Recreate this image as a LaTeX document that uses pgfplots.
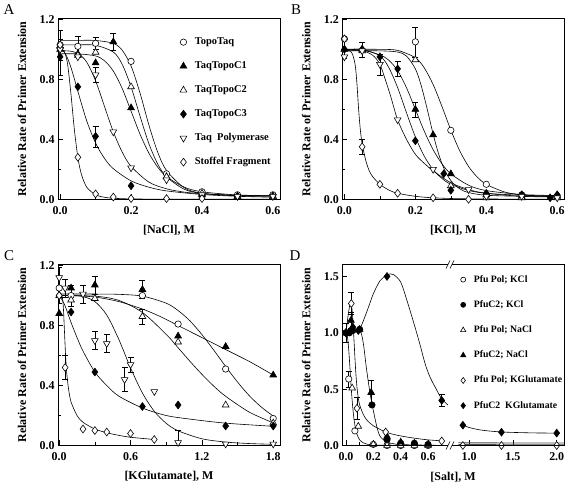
\documentclass[border=0pt]{standalone}
\usepackage{fontspec}
\setmainfont{Liberation Serif}
\usepackage{pgfplots}
\usetikzlibrary{calc}
\pgfplotsset{compat=1.18}
\pgfplotsset{
 panel/.style={scale only axis, width=222bp, height=181bp, anchor=south west,
   clip mode=individual, tick align=inside, tick pos=left,
   major tick length=5bp, minor tick length=3bp,
   every tick/.style={black, line width=0.6pt},
   axis line style={black, line width=0.8pt},
   tick label style={font=\fontsize{12}{12}\selectfont\bfseries},
   xticklabel style={yshift=-4bp},
   label style={font=\fontsize{12}{14}\selectfont\bfseries},
   /pgf/number format/fixed, /pgf/number format/fixed zerofill, /pgf/number format/precision=1,
   /pgf/number format/assume math mode=true,
   ylabel style={at={(axis description cs:-0.162,0.5)}, anchor=center},
   xlabel style={at={(axis description cs:0.5,-0.17)}, anchor=center},
   legend cell align=left,
   legend image code/.code={\draw[##1] plot coordinates {(0bp,0bp)};},
 },
 curve/.style={black, line width=0.6pt, smooth, tension=0.5, mark=none, forget plot},
 eb/.style={only marks, mark=none, forget plot, error bars/.cd, y dir=both, y explicit,
   error bar style={black, line width=0.6pt}, error mark options={rotate=90, black, line width=0.6pt, mark size=3bp}},
 mO/.style={only marks, mark=*, mark size=3.2bp, mark options={fill=white, draw=black, line width=0.6pt}},
 mCf/.style={only marks, mark=*, mark size=3.2bp, mark options={fill=black, draw=black, line width=0.6pt}},
 mTf/.style={only marks, mark=triangle*, mark size=3.9bp, mark options={fill=black, draw=black, line width=0.6pt}},
 mTo/.style={only marks, mark=triangle*, mark size=3.9bp, mark options={fill=white, draw=black, line width=0.6pt}},
 mDf/.style={only marks, mark=diamond*, mark size=3.9bp, mark options={fill=black, draw=black, line width=0.6pt}},
 mDo/.style={only marks, mark=diamond*, mark size=3.9bp, mark options={fill=white, draw=black, line width=0.6pt}},
 mV/.style={only marks, mark=triangle*, mark size=3.9bp, mark options={fill=white, draw=black, line width=0.6pt, rotate=180}},
 legA/.style={legend style={draw=none, fill=none, inner sep=0pt, row sep=14bp, column sep=8bp,
   font=\fontsize{10.5}{10.5}\selectfont\bfseries, nodes={inner sep=0pt, text height=7.5bp, text depth=2.5bp}}},
}
\begin{document}
\begin{tikzpicture}[x=1bp,y=1bp]
\useasboundingbox (0bp,0bp) rectangle (568bp,492bp);
% ---------------- Panel A ----------------
\begin{axis}[panel, at={(58bp,292.7bp)}, xmin=-0.006, xmax=0.62, ymin=0, ymax=1.207,
  xtick={0,0.2,0.4,0.6}, minor xtick={0.1,0.3,0.5},
  ytick={0,0.4,0.8,1.2}, minor ytick={0.2,0.6,1.0},
  xlabel={{}[NaCl], M}, ylabel={Relative Rate of Primer Extension},
  legA, legend style={at={(axis description cs:0.549,0.897)}, anchor=north west}]
\addplot[curve] coordinates {(0,1.06)(0.05,1.06)(0.1,1.059)(0.15,1.04)(0.175,0.994)(0.2,0.889)(0.225,0.711)(0.25,0.498)(0.275,0.315)(0.3,0.192)(0.35,0.077)(0.4,0.04)(0.5,0.024)(0.6,0.021)};
\addplot[curve] coordinates {(0,1.03)(0.05,1.03)(0.1,1.027)(0.15,0.982)(0.175,0.90)(0.2,0.75)(0.225,0.557)(0.25,0.373)(0.275,0.236)(0.3,0.15)(0.35,0.067)(0.4,0.039)(0.5,0.024)(0.6,0.021)};
\addplot[curve] coordinates {(0,0.97)(0.05,0.97)(0.1,0.956)(0.125,0.924)(0.15,0.855)(0.175,0.739)(0.2,0.588)(0.225,0.436)(0.25,0.309)(0.275,0.215)(0.3,0.151)(0.35,0.081)(0.4,0.05)(0.5,0.029)(0.6,0.024)};
\addplot[curve] coordinates {(0,0.99)(0.025,0.989)(0.05,0.973)(0.075,0.915)(0.1,0.79)(0.125,0.62)(0.15,0.45)(0.175,0.315)(0.2,0.22)(0.25,0.115)(0.3,0.07)(0.35,0.048)(0.4,0.037)(0.5,0.027)(0.6,0.023)};
\addplot[curve] coordinates {(0,1.0)(0.01,0.987)(0.02,0.946)(0.03,0.883)(0.04,0.804)(0.05,0.72)(0.075,0.523)(0.1,0.375)(0.125,0.273)(0.15,0.204)(0.2,0.123)(0.25,0.081)(0.3,0.056)(0.4,0.032)(0.5,0.02)(0.6,0.014)};
\addplot[curve] coordinates {(0,1.0)(0.01,0.993)(0.02,0.917)(0.03,0.715)(0.04,0.468)(0.05,0.28)(0.06,0.167)(0.075,0.081)(0.1,0.03)(0.125,0.0135)(0.15,0.007)(0.2,0.0025)(0.3,0.001)(0.6,0.0)};
\addplot[eb] coordinates {(0,0.95) +- (0,0.12) (0,1.03) +- (0,0.1) (0.05,1.02) +- (0,0.07) (0.1,1.04) +- (0,0.04) (0.1,0.83) +- (0,0.05) (0.15,1.05) +- (0,0.055) (0.1,0.42) +- (0,0.07)};
\addplot[mO] coordinates {(0,1.03)(0.05,1.02)(0.1,1.04)(0.2,0.92)(0.3,0.17)(0.4,0.05)(0.5,0.03)(0.6,0.03)};
\addlegendentry{TopoTaq}
\addplot[mTf] coordinates {(0,1.0)(0.05,0.97)(0.1,0.91)(0.15,1.05)(0.2,0.61)(0.3,0.15)(0.4,0.03)(0.5,0.02)(0.6,0.02)};
\addlegendentry{TaqTopoC1}
\addplot[mTo] coordinates {(0,1.02)(0.05,0.96)(0.1,0.98)(0.2,0.75)(0.3,0.15)(0.4,0.04)(0.5,0.02)(0.6,0.02)};
\addlegendentry{TaqTopoC2}
\addplot[mDf] coordinates {(0,0.95)(0.05,0.75)(0.1,0.42)(0.2,0.09)(0.4,0.02)(0.5,0.02)(0.6,0.02)};
\addlegendentry{TaqTopoC3}
\addplot[mV] coordinates {(0,1.0)(0.05,0.95)(0.1,0.83)(0.15,0.45)(0.2,0.21)(0.3,0.13)(0.4,0.03)(0.5,0.02)(0.6,0.02)};
\addlegendentry{Taq~ Polymerase}
\addplot[mDo] coordinates {(0,1.03)(0.05,0.28)(0.1,0.036)(0.15,0.015)(0.2,0.005)(0.3,0.005)(0.4,0.005)};
\addlegendentry{Stoffel Fragment}
\end{axis}
% ---------------- Panel B ----------------
\begin{axis}[panel, at={(342.3bp,292.7bp)}, xmin=-0.006, xmax=0.62, ymin=0, ymax=1.207,
  xtick={0,0.2,0.4,0.6}, minor xtick={0.1,0.3,0.5},
  ytick={0,0.4,0.8,1.2}, minor ytick={0.2,0.6,1.0},
  xlabel={{}[KCl], M}, ylabel={Relative Rate of Primer Extension}]
\addplot[curve] coordinates {(0,1.0)(0.1,1.0)(0.15,0.993)(0.2,0.944)(0.225,0.877)(0.25,0.766)(0.275,0.619)(0.3,0.462)(0.325,0.324)(0.35,0.219)(0.375,0.147)(0.4,0.10)(0.45,0.05)(0.5,0.029)(0.6,0.015)};
\addplot[curve] coordinates {(0,0.99)(0.1,0.99)(0.15,0.982)(0.175,0.955)(0.2,0.87)(0.215,0.77)(0.23,0.635)(0.25,0.436)(0.265,0.307)(0.28,0.209)(0.3,0.125)(0.325,0.07)(0.35,0.045)(0.4,0.027)(0.5,0.02)(0.6,0.02)};
\addplot[curve] coordinates {(0,1.0)(0.05,0.995)(0.1,0.963)(0.125,0.928)(0.15,0.858)(0.175,0.744)(0.2,0.6)(0.225,0.455)(0.25,0.331)(0.275,0.237)(0.3,0.17)(0.35,0.094)(0.4,0.058)(0.5,0.032)(0.6,0.025)};
\addplot[curve] coordinates {(0,1.0)(0.05,0.999)(0.1,0.957)(0.125,0.879)(0.15,0.745)(0.175,0.577)(0.2,0.416)(0.225,0.288)(0.25,0.198)(0.275,0.139)(0.3,0.10)(0.35,0.059)(0.4,0.04)(0.5,0.027)(0.6,0.023)};
\addplot[curve] coordinates {(0,0.99)(0.05,0.99)(0.08,0.96)(0.1,0.9)(0.115,0.8)(0.13,0.69)(0.15,0.53)(0.175,0.4)(0.2,0.3)(0.225,0.24)(0.25,0.19)(0.3,0.11)(0.35,0.065)(0.4,0.04)(0.5,0.02)(0.6,0.015)};
\addplot[curve] coordinates {(0,1.0)(0.02,0.98)(0.03,0.9)(0.035,0.78)(0.04,0.6)(0.045,0.46)(0.05,0.37)(0.06,0.26)(0.07,0.19)(0.08,0.15)(0.1,0.1)(0.125,0.062)(0.15,0.04)(0.2,0.02)(0.25,0.01)(0.35,0.003)(0.6,0.0)};
\addplot[eb] coordinates {(0,1.0) +- (0,0.06) (0.05,1.0) +- (0,0.05) (0.1,0.9) +- (0,0.07) (0.15,0.87) +- (0,0.05) (0.2,1.05) +- (0,0.1) (0.2,0.6) +- (0,0.05) (0.05,0.35) +- (0,0.05)};
\addplot[mO] coordinates {(0,1.07)(0.2,1.05)(0.3,0.46)(0.4,0.10)(0.5,0.03)(0.6,0.02)};
\addplot[mTf] coordinates {(0,1.0)(0.05,1.0)(0.2,0.6)(0.25,0.43)(0.3,0.17)(0.4,0.03)(0.5,0.02)(0.6,0.02)};
\addplot[mTo] coordinates {(0,1.0)(0.05,0.99)(0.2,0.93)(0.3,0.09)(0.4,0.01)(0.5,0.01)(0.6,0.01)};
\addplot[mDf] coordinates {(0,1.0)(0.05,1.0)(0.1,0.95)(0.15,0.87)(0.2,0.39)(0.28,0.17)(0.3,0.06)(0.4,0.04)(0.5,0.03)(0.58,0.01)(0.6,0.03)};
\addplot[mV] coordinates {(0,0.95)(0.05,0.99)(0.1,0.9)(0.15,0.53)(0.25,0.2)(0.35,0.065)(0.4,0.02)(0.5,0.02)(0.6,0.01)};
\addplot[mDo] coordinates {(0,1.07)(0.05,0.35)(0.1,0.1)(0.15,0.04)(0.25,0.01)(0.35,0.0)};
\end{axis}
% ---------------- Panel C ----------------
\begin{axis}[panel, at={(58bp,46.5bp)}, xmin=-0.01, xmax=1.857, ymin=0, ymax=1.207,
  xtick={0,0.6,1.2,1.8}, minor xtick={0.3,0.9,1.5},
  ytick={0,0.4,0.8,1.2}, minor ytick={0.2,0.6,1.0},
  xlabel={{}[KGlutamate], M}, ylabel={Relative Rate of Primer Extension}]
\addplot[curve] coordinates {(0,1.01)(0.3,1.01)(0.5,1.008)(0.7,0.996)(0.9,0.949)(1.0,0.90)(1.1,0.831)(1.2,0.74)(1.3,0.636)(1.4,0.527)(1.5,0.423)(1.6,0.331)(1.7,0.256)(1.8,0.196)};
\addplot[curve] coordinates {(0,1.0)(0.1,1.0)(0.3,0.99)(0.5,0.96)(0.7,0.91)(0.85,0.86)(1.0,0.8)(1.2,0.72)(1.4,0.64)(1.6,0.56)(1.8,0.47)};
\addplot[curve] coordinates {(0,1.0)(0.3,0.996)(0.5,0.968)(0.7,0.887)(0.9,0.741)(1.0,0.652)(1.1,0.561)(1.2,0.475)(1.3,0.396)(1.4,0.328)(1.6,0.222)(1.8,0.151)};
\addplot[curve] coordinates {(0,1.0)(0.1,1.0)(0.2,0.993)(0.3,0.96)(0.4,0.87)(0.5,0.71)(0.6,0.518)(0.7,0.35)(0.8,0.228)(0.9,0.148)(1.0,0.098)(1.2,0.045)(1.4,0.023)(1.6,0.013)(1.8,0.008)};
\addplot[curve] coordinates {(0,1.0)(0.025,0.97)(0.05,0.93)(0.1,0.82)(0.15,0.72)(0.2,0.63)(0.3,0.49)(0.4,0.40)(0.5,0.33)(0.7,0.25)(0.9,0.2)(1.1,0.176)(1.4,0.149)(1.8,0.128)};
\addplot[curve] coordinates {(0,1.0)(0.025,0.99)(0.035,0.92)(0.045,0.75)(0.055,0.58)(0.065,0.47)(0.08,0.37)(0.1,0.29)(0.15,0.2)(0.2,0.155)(0.3,0.11)(0.4,0.085)(0.5,0.068)(0.6,0.055)(0.8,0.04)};
\addplot[eb] coordinates {(0,1.12) +- (0,0.07) (0,1.0) +- (0,0.05) (0.05,1.05) +- (0,0.06) (0.1,1.0) +- (0,0.07) (0.2,1.01) +- (0,0.06) (0.3,1.07) +- (0,0.06) (0.3,0.7) +- (0,0.06) (0.4,0.68) +- (0,0.06) (0.55,0.44) +- (0,0.08) (0.6,0.54) +- (0,0.05) (0.7,1.04) +- (0,0.06) (0.7,0.86) +- (0,0.05) (1.0,0.02) +- (0,0.08) (0.05,0.52) +- (0,0.08)};
\addplot[mO] coordinates {(0,1.05)(0.1,1.0)(0.7,1.0)(1.0,0.81)(1.4,0.51)(1.8,0.18)};
\addplot[mTf] coordinates {(0,0.88)(0.1,1.05)(0.3,1.07)(0.7,1.04)(1.0,0.73)(1.4,0.66)(1.8,0.47)};
\addplot[mTo] coordinates {(0,1.0)(0.1,0.97)(0.3,0.98)(0.7,0.86)(1.0,0.69)(1.4,0.27)(1.8,0.15)};
\addplot[mDf] coordinates {(0,1.0)(0.1,0.89)(0.3,0.49)(0.7,0.26)(1.0,0.27)(1.4,0.13)(1.8,0.13)};
\addplot[mV] coordinates {(0,1.12)(0.05,1.05)(0.2,1.01)(0.3,0.7)(0.4,0.68)(0.55,0.44)(0.6,0.54)(0.8,0.36)(1.0,0.02)(1.4,0.01)(1.8,0.01)};
\addplot[mDo] coordinates {(0,1.0)(0.05,0.52)(0.2,0.11)(0.3,0.1)(0.4,0.09)(0.6,0.08)(0.8,0.04)};
\end{axis}
% ---------------- Panel D (broken x axis) ----------------
\begin{axis}[panel, name=Dl, at={(342.3bp,46.5bp)}, width=105.7bp, xmin=-0.027, xmax=0.746, ymin=0, ymax=1.606,
  axis line style={draw=none},
  xtick={0,0.2,0.4,0.6}, minor xtick={0.1,0.3,0.5,0.7},
  ytick={0,0.5,1.0,1.5},
  ylabel={Relative Rate of Primer Extension},
  ylabel style={at={(axis description cs:-0.341,0.5)}}]
\addplot[curve] coordinates {(0,1.0)(0.01,0.97)(0.02,0.85)(0.03,0.67)(0.04,0.48)(0.05,0.33)(0.06,0.22)(0.07,0.15)(0.08,0.1)(0.1,0.05)(0.125,0.025)(0.15,0.013)(0.2,0.005)(0.3,0.002)(0.745,0.0)};
\addplot[curve] coordinates {(0,1.0)(0.015,1.15)(0.03,1.26)(0.04,1.25)(0.05,1.12)(0.06,0.9)(0.07,0.68)(0.08,0.52)(0.09,0.42)(0.1,0.36)(0.125,0.28)(0.15,0.23)(0.2,0.175)(0.3,0.115)(0.4,0.085)(0.5,0.065)(0.6,0.05)(0.72,0.04)};
\addplot[curve] coordinates {(0,1.0)(0.05,1.02)(0.1,1.02)(0.115,0.98)(0.13,0.88)(0.15,0.68)(0.175,0.47)(0.19,0.37)(0.2,0.31)(0.225,0.17)(0.25,0.08)(0.3,0.03)(0.35,0.015)(0.4,0.008)(0.6,0.003)(0.745,0.0)};
\addplot[curve] coordinates {(0,1.0)(0.05,1.01)(0.1,1.035)(0.15,1.18)(0.2,1.346)(0.25,1.464)(0.3,1.515)(0.325,1.523)(0.35,1.515)(0.4,1.45)(0.445,1.29)(0.5,1.07)(0.54,0.9)(0.58,0.72)(0.615,0.606)(0.66,0.5)(0.7,0.414)(0.745,0.36)};
\addplot[eb] coordinates {(0,1.0) +- (0,0.08) (0.02,0.59) +- (0,0.07) (0.039,1.26) +- (0,0.1) (0.036,1.11) +- (0,0.07) (0.08,0.33) +- (0,0.1) (0.184,0.47) +- (0,0.11) (0.7,0.4) +- (0,0.05)};
\addplot[mO] coordinates {(0,1.0)(0.02,0.59)(0.065,0.13)(0.2,0.01)(0.3,0.0)(0.4,0.0)(0.5,0.0)(0.6,0.0)};
\addplot[mCf] coordinates {(0,1.0)(0.025,1.0)(0.05,1.02)(0.1,1.03)(0.19,0.36)(0.3,0.05)(0.4,0.02)(0.5,0.02)(0.6,0.01)};
\addplot[mTo] coordinates {(0,1.0)(0.045,0.51)(0.09,0.17)(0.2,0.01)(0.3,0.0)(0.4,0.0)(0.5,0.0)(0.6,0.0)};
\addplot[mTf] coordinates {(0,1.0)(0.036,1.11)(0.1,1.03)(0.184,0.47)(0.3,0.08)(0.4,0.03)(0.5,0.02)(0.6,0.01)};
\addplot[mDo] coordinates {(0,1.0)(0.039,1.26)(0.08,0.33)(0.29,0.12)(0.7,0.04)};
\addplot[mDf] coordinates {(0,1.0)(0.025,1.01)(0.05,1.05)(0.09,1.02)(0.3,1.5)(0.7,0.4)};
\end{axis}
\begin{axis}[panel, name=Dr, at={(452bp,46.5bp)}, width=112bp, xmin=0.806, xmax=2.083, ymin=0, ymax=1.606,
  axis line style={draw=none},
  xtick={1.0,1.5,2.0}, ytick=\empty,
  legend style={draw=none, fill=none, inner sep=0pt, row sep=15.2bp, column sep=8bp,
    font=\fontsize{9.8}{9.8}\selectfont\bfseries, nodes={inner sep=0pt, text height=7.5bp, text depth=2.5bp},
    at={(axis description cs:0.075,0.945)}, anchor=north west}]
\addplot[curve] coordinates {(0.93,0.18)(1.0,0.16)(1.1,0.142)(1.2,0.131)(1.37,0.12)(1.6,0.114)(1.8,0.111)(2.0,0.11)};
\addplot[curve, line width=0.9pt, black!70] coordinates {(0.88,0.024)(1.2,0.023)(1.6,0.022)(2.083,0.022)};
\addplot[curve, line width=0.9pt, black!70] coordinates {(0.88,0.008)(1.4,0.007)(2.083,0.007)};
\addplot[mDo, forget plot] coordinates {(0.93,0.0)(1.37,0.0)(2.0,0.0)};
\addplot[mDf, forget plot] coordinates {(0.93,0.18)(1.37,0.118)(2.0,0.11)};
\addlegendimage{mO, mark size=2.5bp}\addlegendentry{Pfu Pol; KCl}
\addlegendimage{mCf, mark size=2.5bp}\addlegendentry{PfuC2; KCl}
\addlegendimage{mTo, mark size=3bp}\addlegendentry{Pfu Pol; NaCl}
\addlegendimage{mTf, mark size=3bp}\addlegendentry{PfuC2; NaCl}
\addlegendimage{mDo, mark size=3bp}\addlegendentry{Pfu Pol; KGlutamate}
\addlegendimage{mDf, mark size=3bp}\addlegendentry{PfuC2~ KGlutamate}
\end{axis}
\draw[line width=0.8pt] (Dl.north east) -- (Dl.north west) -- (Dl.south west) -- (Dl.south east);
\draw[line width=0.8pt] (Dr.north west) -- (Dr.north east) -- (Dr.south east) -- (Dr.south west);
\draw[line width=0.6pt] ($(Dl.north east)+(-2bp,-4bp)$) -- ++(4bp,8bp);
\draw[line width=0.6pt] ($(Dr.north west)+(-2bp,-4bp)$) -- ++(4bp,8bp);
\draw[line width=0.6pt] ($(Dl.south east)+(-2bp,-4bp)$) -- ++(4bp,8bp);
\draw[line width=0.6pt] ($(Dr.south west)+(-2bp,-4bp)$) -- ++(4bp,8bp);
\node[font=\fontsize{12}{14}\selectfont\bfseries] at (453bp,15bp) {[Salt], M};
% panel letters
\node[font=\fontsize{15}{15}\selectfont] at (9bp,482bp) {A};
\node[font=\fontsize{15}{15}\selectfont] at (296bp,482bp) {B};
\node[font=\fontsize{15}{15}\selectfont] at (9bp,236bp) {C};
\node[font=\fontsize{15}{15}\selectfont] at (295bp,236bp) {D};
\end{tikzpicture}
\end{document}
